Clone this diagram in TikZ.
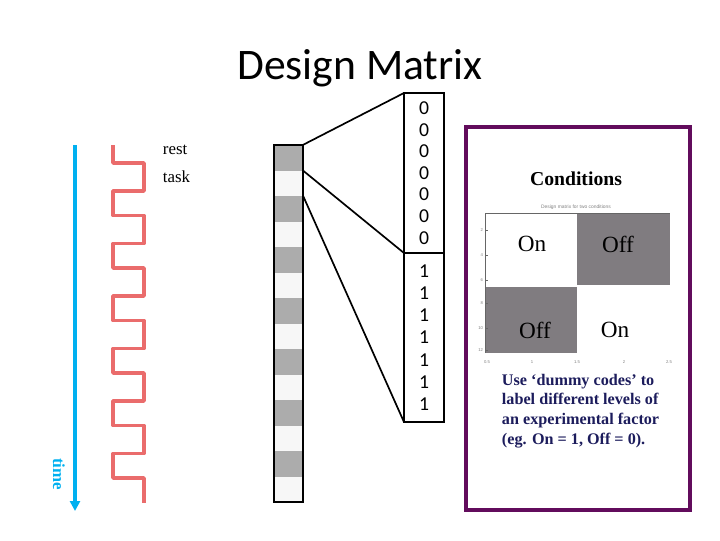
\documentclass[tikz,border=0pt]{standalone}
\usepackage{fontspec}
\setmainfont{Liberation Serif}
\newfontfamily\calibri{Carlito}
\newfontfamily\plotfont{Liberation Sans}
\usetikzlibrary{arrows.meta}
\definecolor{timeblue}{RGB}{0,176,240}
\definecolor{wavered}{RGB}{234,108,108}
\definecolor{cellgray}{RGB}{172,172,172}
\definecolor{plotgray}{RGB}{128,124,128}
\definecolor{framepurple}{RGB}{98,12,92}
\definecolor{notenavy}{RGB}{28,28,92}

\begin{document}
\begin{tikzpicture}[x=0.025cm,y=-0.025cm,
  cell/.style={minimum width=0.725cm,minimum height=0.6375cm,inner sep=0pt},
  codebox/.style={draw,line width=1.4pt,minimum width=1cm,inner sep=0pt,outer sep=0pt,align=center},
  cond/.style={font=\fontsize{16.5}{18}\selectfont},
  tick/.style={font=\plotfont\fontsize{3}{3.5}\selectfont,text=gray,inner sep=0.5pt}]
  \useasboundingbox (0,0) rectangle (720,540);

  % title
  \node[font=\calibri\fontsize{31}{34}\selectfont] (title) at (360,68) {Design Matrix};

  % time axis and block wave
  \draw[timeblue,line width=2.8pt,-{Triangle[length=7pt,width=7pt]}] (75,145) -- (75,511);
  \node[rotate=-90,text=timeblue,font=\bfseries\fontsize{12}{14}\selectfont] (timelbl) at (59,474) {time};
  \draw[wavered,line width=2.5pt,line join=round]
    (113,145) \foreach \k in {0,...,5}{
      -- (113,{163+52.5*\k}) -- (144,{163+52.5*\k}) -- (144,{191+52.5*\k}) -- (113,{191+52.5*\k})}
    -- (113,478) -- (144,478) -- (144,503);
  \node[anchor=west,font=\fontsize{12}{14}\selectfont] (rest) at (158,150) {rest};
  \node[anchor=west,font=\fontsize{12}{14}\selectfont] (task) at (158,177) {task};

  % design column
  \foreach \i in {1,3,...,13}
    \node[cell,fill=cellgray] (c\i) at (288.5,{145+25.5*(\i-0.5)}) {};
  \foreach \i in {2,4,...,14}
    \node[cell,fill=black!3] (c\i) at (288.5,{145+25.5*(\i-0.5)}) {};
  \draw[line width=1.4pt] (c1.north west) rectangle (c14.south east);

  % dummy codes
  \node[codebox,minimum height=4cm,font=\calibri\fontsize{14}{15.4}\selectfont] (zeros) at (424,173)
    {0\\0\\0\\0\\0\\0\\0};
  \node[codebox,minimum height=4.225cm,anchor=north,font=\calibri\fontsize{14}{15.8}\selectfont] (ones) at (zeros.south)
    {1\\1\\1\\1\\1\\1\\1};
  \draw[line width=1.2pt] (c1.north east) -- (zeros.north west);
  \draw[line width=1.2pt] (c1.south east) -- (zeros.south west);
  \draw[line width=1.2pt] (c2.south east) -- (ones.south west);

  % conditions panel
  \draw[framepurple,line width=3.5pt] (466,127) rectangle (690,510);
  \node[font=\bfseries\fontsize{14}{16}\selectfont] (conds) at (576,179) {Conditions};
  \node[tick,font=\plotfont\fontsize{3.5}{4}\selectfont] (plottitle) at (576,207) {Design matrix for two conditions};
  \fill[plotgray] (577,213) rectangle (670,286);
  \fill[plotgray] (485,286) rectangle (577,353);
  \draw[white,line width=0.8pt] (485,286) -- (670,286);
  \draw[black!60,line width=0.5pt] (485,353) -- (485,213) -- (670,213);
  \foreach \y/\t in {230/2,255/4,280/6,303/8,328/10,350/12}{
    \draw[black!60,line width=0.3pt] (485,\y) -- (488,\y);
    \node[tick,anchor=east] at (484,\y) {\t};
  }
  \foreach \x/\t in {487/0.5,532/1,577/1.5,624/2,669/2.5}
    \node[tick] at (\x,362) {\t};
  \node[cond] (onA) at (532,244) {On};
  \node[cond] (offA) at (618,244) {Off};
  \node[cond] (offB) at (535,330) {Off};
  \node[cond] (onB) at (615,330) {On};
  \node[anchor=north west,align=left,text=notenavy,font=\bfseries\fontsize{11.5}{14}\selectfont] (note) at (497,369)
    {Use ‘dummy codes’ to\\label different levels of\\an experimental factor\\(eg. On = 1, Off = 0).};
\end{tikzpicture}
\end{document}
